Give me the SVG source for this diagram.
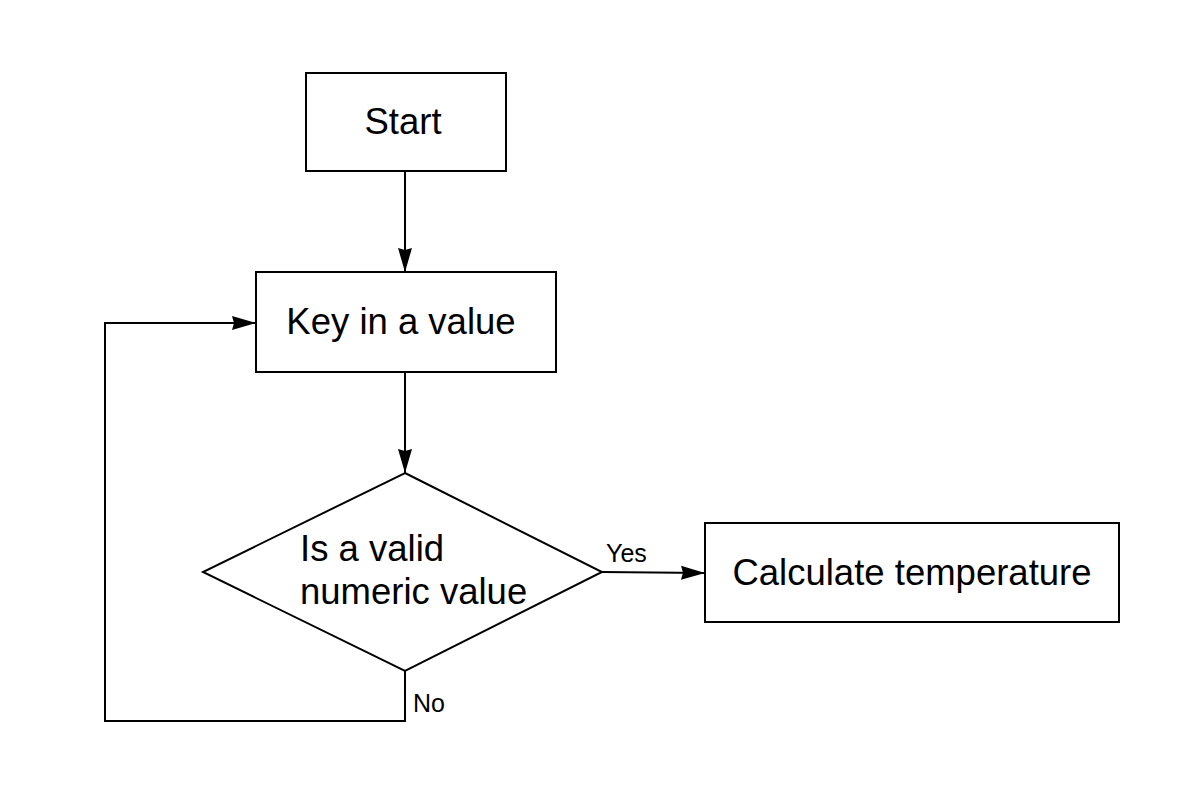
<svg xmlns="http://www.w3.org/2000/svg" width="1202" height="806" viewBox="0 0 1202 806">
<style>
.box{fill:#fff;stroke:#000;stroke-width:2}
.edge{fill:none;stroke:#000;stroke-width:2}
.t{font-family:"Liberation Sans",Arial,sans-serif;font-size:36.5px;fill:#000}
.lbl{font-family:"Liberation Sans",Arial,sans-serif;font-size:25px;fill:#000}
</style>
<defs>
<marker id="arr" viewBox="0 0 24 16" refX="24" refY="8" markerWidth="24" markerHeight="16" markerUnits="userSpaceOnUse" orient="auto">
<path d="M0,1 L24,8 L0,15 L2,8 Z" fill="#000"/>
</marker>
</defs>
<rect width="1202" height="806" fill="#fff"/>
<g id="connectors">
<line class="edge" x1="405" y1="171" x2="405" y2="272" marker-end="url(#arr)"/>
<line class="edge" x1="405" y1="373" x2="405" y2="473" marker-end="url(#arr)"/>
<line class="edge" x1="602" y1="572" x2="705" y2="573" marker-end="url(#arr)"/>
<polyline class="edge" points="405,671 405,721 105,721 105,323 256,323" marker-end="url(#arr)"/>
<text class="lbl" x="606" y="562">Yes</text>
<text class="lbl" x="413" y="712">No</text>
</g>
<g id="start">
<rect class="box" x="306" y="73" width="200" height="98"/>
<text class="t" x="403" y="134" text-anchor="middle">Start</text>
</g>
<g id="key">
<rect class="box" x="256" y="272" width="300" height="100"/>
<text class="t" x="401" y="334" text-anchor="middle">Key in a value</text>
</g>
<g id="decision">
<polygon class="box" points="405,473 602,572 405,671 203,572"/>
<text class="t" x="300" y="561">Is a valid</text>
<text class="t" x="300" y="604">numeric value</text>
</g>
<g id="calc">
<rect class="box" x="705" y="523" width="414" height="99"/>
<text class="t" x="912" y="585" text-anchor="middle">Calculate temperature</text>
</g>
</svg>
